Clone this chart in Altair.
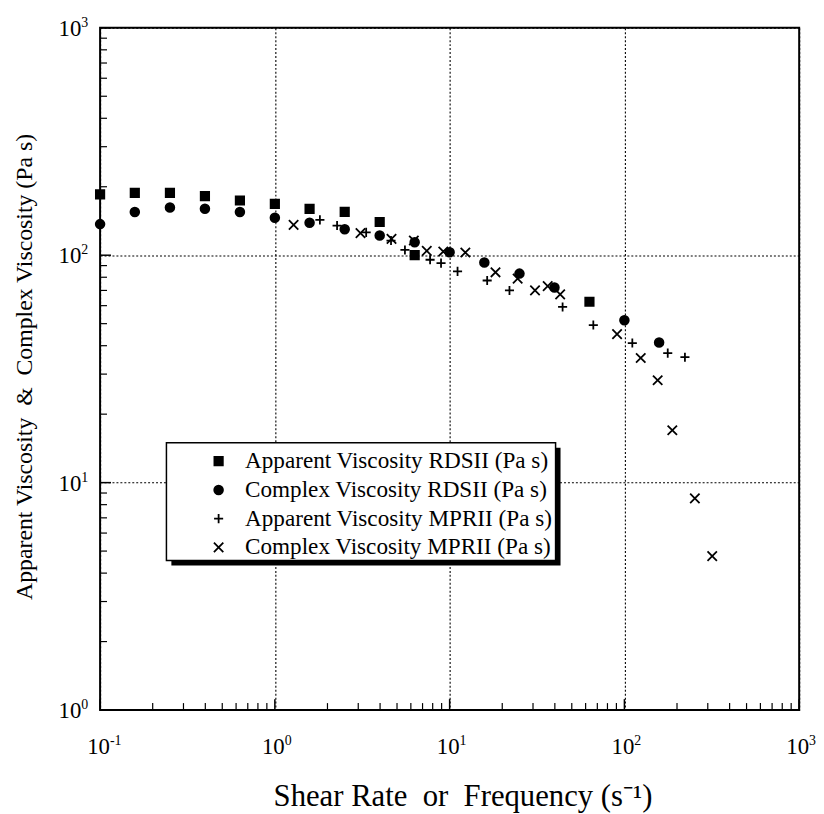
import altair as alt
import pandas as pd

# ---- data ----
series_names = [
    "Apparent Viscosity RDSII (Pa s)",
    "Complex Viscosity RDSII (Pa s)",
    "Apparent Viscosity MPRII (Pa s)",
    "Complex Viscosity MPRII (Pa s)",
]

app_rdsii_x = [0.1, 0.158, 0.251, 0.398, 0.631, 1.0, 1.58, 2.51, 3.98, 6.31, 63.1]
app_rdsii_y = [185, 188, 188, 182, 174, 168, 160, 155, 140, 100, 62.4]

cpx_rdsii_x = [0.1, 0.158, 0.251, 0.398, 0.631, 1.0, 1.58, 2.51, 3.98, 6.31, 10.0, 15.8, 25.1, 39.8, 100, 158]
cpx_rdsii_y = [137, 155, 162, 160, 155, 146, 139, 130, 122, 114, 103, 92.9, 83, 72.1, 51.8, 41.3]

app_mprii_x = [1.81, 2.27, 3.33, 4.62, 5.55, 7.73, 8.93, 11.1, 16.4, 22.0, 44.3, 66.4, 111, 177, 222]
app_mprii_y = [143, 135, 126, 116, 105.5, 95.5, 92.3, 84.9, 77.4, 70.0, 59.2, 49.3, 41.1, 37.1, 35.6]

cpx_mprii_x = [1.28, 3.09, 4.65, 6.24, 7.40, 9.2, 12.3, 18.3, 24.5, 30.8, 36.4, 42.9, 90.8, 124, 155, 188, 253, 318]
cpx_mprii_y = [136, 125, 118, 116, 104.5, 103.8, 102.8, 84.1, 78.9, 70.0, 73.1, 67.3, 45.0, 35.3, 28.2, 17.0, 8.53, 4.75]

decades_x = [0.1, 1, 10, 100, 1000]
decades_y = [1, 10, 100, 1000]
minor_mult = [2, 3, 4, 5, 6, 7, 8, 9]
x_label_base = ["10", "10", "10", "10", "10"]
x_label_exp = ["-1", "0", "1", "2", "3"]
y_label_base = ["10", "10", "10", "10"]
y_label_exp = ["0", "1", "2", "3"]

# ---- tables ----
rows = []
for name, xs, ys in zip(series_names,
                        [app_rdsii_x, cpx_rdsii_x, app_mprii_x, cpx_mprii_x],
                        [app_rdsii_y, cpx_rdsii_y, app_mprii_y, cpx_mprii_y]):
    for a, b in zip(xs, ys):
        rows.append({"x": a, "y": b, "series": name})
df = pd.DataFrame(rows)

minor_x = pd.DataFrame({"x": [d * m for d in decades_x[:-1] for m in minor_mult]})
minor_y = pd.DataFrame({"y": [d * m for d in decades_y[:-1] for m in minor_mult]})
xlab = pd.DataFrame({"x": decades_x, "base": x_label_base, "exp": x_label_exp})
ylab = pd.DataFrame({"y": decades_y, "base": y_label_base, "exp": y_label_exp})

W, H = 706, 689
FONT = "Liberation Serif"

xscale = alt.Scale(type="log", domain=[0.1, 1000], nice=False)
yscale = alt.Scale(type="log", domain=[1, 1000], nice=False)

x_axis = alt.Axis(values=decades_x, labels=False, grid=True, ticks=False, domain=False,
                  title="Shear Rate\u00a0\u00a0or\u00a0\u00a0Frequency (s\u207b\u00b9)",
                  titleFont=FONT, titleFontSize=31, titleFontWeight="normal", titleColor="black",
                  titleX=366, titleY=87, titleBaseline="middle",
                  gridColor="black", gridDash=[2, 2], gridWidth=1.1, gridOpacity=1)
y_axis = alt.Axis(values=decades_y, labels=False, grid=True, ticks=False, domain=False,
                  title="Apparent Viscosity\u00a0\u00a0&\u00a0\u00a0Complex Viscosity (Pa s)",
                  titleFont=FONT, titleFontSize=24, titleFontWeight="normal", titleColor="black",
                  titleX=-76, titleY=342, titleBaseline="middle", titleAngle=-90,
                  gridColor="black", gridDash=[2, 2], gridWidth=1.1, gridOpacity=1)

X = alt.X("x:Q", scale=xscale, axis=x_axis)
Y = alt.Y("y:Q", scale=yscale, axis=y_axis)

shapes = ["square", "circle", "M-1,0L1,0M0,-1L0,1", "M-1,-1L1,1M-1,1L1,-1"]
fills = ["black", "black", "transparent", "transparent"]
strokes = ["black", "black", "black", "black"]
sizes = [72, 90, 130, 90]

legend = alt.Legend(orient="none", legendX=67, legendY=419, title=None,
                    padding=7, fillColor="transparent", strokeColor="transparent",
                    labelFont=FONT, labelFontSize=23.4, labelColor="black", labelOffset=15,
                    symbolOffset=34, rowPadding=4, symbolStrokeColor="black",
                    symbolStrokeWidth=1.8, labelLimit=500)

points = alt.Chart(df).mark_point(filled=False, opacity=1, strokeWidth=1.8).encode(
    x=X, y=Y,
    shape=alt.Shape("series:N", scale=alt.Scale(domain=series_names, range=shapes), legend=legend),
    fill=alt.Fill("series:N", scale=alt.Scale(domain=series_names, range=fills), legend=legend),
    stroke=alt.Stroke("series:N", scale=alt.Scale(domain=series_names, range=strokes), legend=legend),
    size=alt.Size("series:N", scale=alt.Scale(domain=series_names, range=sizes), legend=legend),
)

# legend frame: drop shadow + white box with thin black border
box_df = pd.DataFrame({"a": [0]})
shadow = alt.Chart(box_df).mark_rect(color="black").encode(
    x=alt.value(72), x2=alt.value(465), y=alt.value(424), y2=alt.value(543)
)
box = alt.Chart(box_df).mark_rect(fill="white", stroke="black", strokeWidth=1.5).encode(
    x=alt.value(67), x2=alt.value(460), y=alt.value(419), y2=alt.value(538)
)

tick_x_minor = alt.Chart(minor_x).mark_rule(color="black", strokeWidth=1.2).encode(
    x=X, y=alt.value(H), y2=alt.value(H - 7))
tick_x_major = alt.Chart(xlab).mark_rule(color="black", strokeWidth=1.5).encode(
    x=X, y=alt.value(H), y2=alt.value(H - 11))
tick_y_minor = alt.Chart(minor_y).mark_rule(color="black", strokeWidth=1.2).encode(
    y=Y, x=alt.value(0), x2=alt.value(7))
tick_y_major = alt.Chart(ylab).mark_rule(color="black", strokeWidth=1.5).encode(
    y=Y, x=alt.value(0), x2=alt.value(11))

xl_base = alt.Chart(xlab).mark_text(font=FONT, fontSize=23, color="black", align="left",
                                    baseline="alphabetic", dx=-13).encode(
    x=X, y=alt.value(H + 44), text="base:N")
xl_exp = alt.Chart(xlab).mark_text(font=FONT, fontSize=14, color="black", align="left",
                                   baseline="alphabetic", dx=10).encode(
    x=X, y=alt.value(H + 35), text="exp:N")
yl_base = alt.Chart(ylab).mark_text(font=FONT, fontSize=23, color="black", align="right",
                                    baseline="alphabetic", dy=8).encode(
    y=Y, x=alt.value(-19), text="base:N")
yl_exp = alt.Chart(ylab).mark_text(font=FONT, fontSize=14, color="black", align="left",
                                   baseline="alphabetic", dy=-1).encode(
    y=Y, x=alt.value(-19), text="exp:N")

chart = alt.layer(points, tick_x_minor, tick_x_major, tick_y_minor, tick_y_major,
                  xl_base, xl_exp, yl_base, yl_exp, shadow, box).properties(
    width=W, height=H, background="white",
    autosize=alt.AutoSizeParams(type="none"),
    padding={"left": 93, "top": 16, "right": 17, "bottom": 100},
).configure_view(stroke="black", strokeWidth=2)

chart.save("out.html", embed_options={"renderer": "svg", "actions": False})
